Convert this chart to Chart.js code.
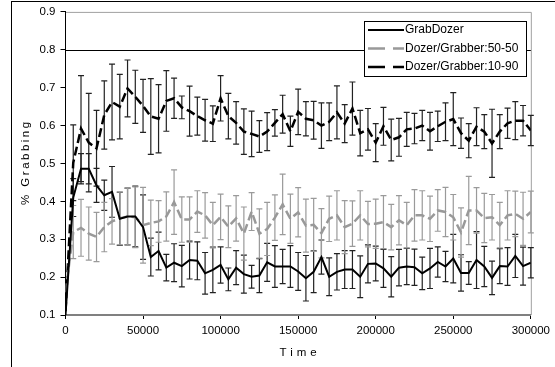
<!DOCTYPE html>
<html>
<head>
<meta charset="utf-8">
<script src="https://cdn.jsdelivr.net/npm/chart.js@4.4.1/dist/chart.umd.min.js"></script>
<style>
  body { margin: 0; background: #fff; }
  canvas { display: block; }
</style>
</head>
<body>
<canvas id="grabChart" width="555" height="367"></canvas>
<script>
// sample times (every 5000 steps)
const times = [0, 5000, 10000, 15000, 20000, 25000, 30000, 35000, 40000, 45000,
  50000, 55000, 60000, 65000, 70000, 75000, 80000, 85000, 90000, 95000,
  100000, 105000, 110000, 115000, 120000, 125000, 130000, 135000, 140000, 145000,
  150000, 155000, 160000, 165000, 170000, 175000, 180000, 185000, 190000, 195000,
  200000, 205000, 210000, 215000, 220000, 225000, 230000, 235000, 240000, 245000,
  250000, 255000, 260000, 265000, 270000, 275000, 280000, 285000, 290000, 295000,
  300000];

// GrabDozer
const grabDozer = [0.10, 0.41, 0.486, 0.486, 0.442, 0.416, 0.425, 0.354, 0.36, 0.36,
  0.332, 0.253, 0.269, 0.225, 0.238, 0.229, 0.245, 0.243, 0.21, 0.219,
  0.232, 0.194, 0.225, 0.208, 0.201, 0.204, 0.239, 0.228, 0.228, 0.228,
  0.215, 0.197, 0.214, 0.253, 0.201, 0.214, 0.22, 0.22, 0.201, 0.235,
  0.236, 0.223, 0.201, 0.225, 0.228, 0.226, 0.21, 0.223, 0.24, 0.228,
  0.249, 0.211, 0.211, 0.245, 0.228, 0.198, 0.229, 0.228, 0.256, 0.229,
  0.238];
const grabDozerErr = [0, 0.05, 0.04, 0.04, 0.045, 0.04, 0.067, 0.07, 0.075, 0.08,
  0.085, 0.05, 0.05, 0.035, 0.05, 0.055, 0.05, 0.05, 0.055, 0.06,
  0.048, 0.03, 0.045, 0.05, 0.03, 0.045, 0.05, 0.055, 0.045, 0.055,
  0.05, 0.06, 0.055, 0.045, 0.05, 0.048, 0.05, 0.05, 0.055, 0.05,
  0.046, 0.05, 0.053, 0.048, 0.048, 0.048, 0.043, 0.053, 0.04, 0.04,
  0.064, 0.048, 0.03, 0.075, 0.053, 0.044, 0.046, 0.05, 0.057, 0.05,
  0.04];

// Dozer/Grabber:50-50
const mix5050 = [0.16, 0.319, 0.33, 0.315, 0.306, 0.332, 0.347, 0.355, 0.36, 0.358,
  0.337, 0.343, 0.347, 0.36, 0.398, 0.352, 0.352, 0.373, 0.363, 0.337,
  0.359, 0.333, 0.355, 0.315, 0.373, 0.315, 0.327, 0.357, 0.392, 0.354,
  0.371, 0.336, 0.338, 0.316, 0.354, 0.363, 0.332, 0.341, 0.363, 0.34,
  0.341, 0.345, 0.332, 0.35, 0.337, 0.363, 0.363, 0.354, 0.376, 0.372,
  0.358, 0.318, 0.376, 0.376, 0.356, 0.358, 0.337, 0.363, 0.367, 0.354,
  0.372];
const mix5050Err = [0, 0.07, 0.075, 0.07, 0.065, 0.065, 0.06, 0.07, 0.075, 0.08,
  0.1, 0.06, 0.055, 0.065, 0.085, 0.06, 0.06, 0.055, 0.06, 0.06,
  0.06, 0.055, 0.06, 0.07, 0.05, 0.065, 0.07, 0.06, 0.08, 0.065,
  0.065, 0.07, 0.07, 0.065, 0.06, 0.065, 0.07, 0.06, 0.065, 0.06,
  0.065, 0.07, 0.06, 0.065, 0.06, 0.068, 0.065, 0.06, 0.055, 0.065,
  0.06, 0.065, 0.09, 0.06, 0.065, 0.06, 0.06, 0.065, 0.06, 0.07,
  0.055];

// Dozer/Grabber:10-90
const mix1090 = [0.11, 0.502, 0.592, 0.555, 0.54, 0.628, 0.662, 0.65, 0.698, 0.676,
  0.652, 0.624, 0.618, 0.665, 0.672, 0.648, 0.638, 0.625, 0.614, 0.605,
  0.672, 0.625, 0.607, 0.584, 0.578, 0.571, 0.584, 0.607, 0.63, 0.585,
  0.636, 0.618, 0.614, 0.6, 0.61, 0.635, 0.605, 0.645, 0.58, 0.59,
  0.555, 0.598, 0.562, 0.569, 0.59, 0.592, 0.6, 0.585, 0.598, 0.61,
  0.617, 0.58, 0.56, 0.597, 0.584, 0.553, 0.584, 0.606, 0.613, 0.613,
  0.587];
const mix1090Err = [0, 0.1, 0.14, 0.13, 0.1, 0.09, 0.1, 0.085, 0.075, 0.07,
  0.07, 0.1, 0.09, 0.08, 0.053, 0.03, 0.066, 0.05, 0.055, 0.047,
  0.06, 0.06, 0.056, 0.06, 0.06, 0.042, 0.05, 0.035, 0.05, 0.04,
  0.06, 0.045, 0.05, 0.06, 0.05, 0.07, 0.05, 0.07, 0.06, 0.055,
  0.05, 0.05, 0.055, 0.05, 0.045, 0.04, 0.04, 0.05, 0.04, 0.05,
  0.07, 0.04, 0.045, 0.05, 0.045, 0.09, 0.045, 0.04, 0.05, 0.04,
  0.04];

const xTicks = [0, 50000, 100000, 150000, 200000, 250000, 300000];
const yTicks = [0.1, 0.2, 0.3, 0.4, 0.5, 0.6, 0.7, 0.8, 0.9];
const refLine = 0.8;

const FONT = 'Arial, "Liberation Sans", sans-serif';

function points(values) {
  return values.map((v, i) => ({ x: times[i], y: v }));
}

// white page, outer frame, plot box and the 0.8 reference line
const frame = {
  id: 'frame',
  beforeDraw(chart) {
    const ctx = chart.ctx;
    const a = chart.chartArea;
    ctx.save();
    ctx.fillStyle = '#fff';
    ctx.fillRect(0, 0, chart.width, chart.height);
    ctx.strokeStyle = '#000';
    ctx.lineWidth = 1;
    ctx.strokeRect(11.5, 1.5, chart.width + 10, chart.height + 10);
    ctx.strokeStyle = '#a0a0a0';
    ctx.beginPath();
    ctx.moveTo(a.left, a.top + 0.5);
    ctx.lineTo(a.right + 0.5, a.top + 0.5);
    ctx.lineTo(a.right + 0.5, a.bottom);
    ctx.stroke();
    const y = Math.round(chart.scales.y.getPixelForValue(refLine)) + 0.5;
    ctx.strokeStyle = '#000';
    ctx.beginPath();
    ctx.moveTo(a.left, y);
    ctx.lineTo(a.right, y);
    ctx.stroke();
    ctx.restore();
  }
};

// vertical error bars with small caps, under the lines
const errorBars = {
  id: 'errorBars',
  beforeDatasetsDraw(chart) {
    const ctx = chart.ctx;
    const xs = chart.scales.x, ys = chart.scales.y;
    ctx.save();
    chart.data.datasets.forEach(ds => {
      ctx.strokeStyle = ds.errColor;
      ctx.lineWidth = 1.2;
      ds.data.forEach((p, i) => {
        const e = ds.err[i];
        if (!e) return;
        const x = xs.getPixelForValue(p.x);
        const y1 = ys.getPixelForValue(p.y + e);
        const y2 = ys.getPixelForValue(p.y - e);
        ctx.beginPath();
        ctx.moveTo(x, y1); ctx.lineTo(x, y2);
        ctx.moveTo(x - 3, y1); ctx.lineTo(x + 3, y1);
        ctx.moveTo(x - 3, y2); ctx.lineTo(x + 3, y2);
        ctx.stroke();
      });
    });
    ctx.restore();
  }
};

// legend box and spaced-out axis titles
const labels = {
  id: 'labels',
  afterDraw(chart) {
    const ctx = chart.ctx;
    const a = chart.chartArea;
    ctx.save();
    // legend
    const lx = 364.5, ly = 21.5, lw = 162, lh = 55;
    ctx.fillStyle = '#fff';
    ctx.fillRect(lx, ly, lw, lh);
    ctx.strokeStyle = '#000';
    ctx.lineWidth = 1;
    ctx.strokeRect(lx, ly, lw, lh);
    ctx.font = '12px ' + FONT;
    ctx.textBaseline = 'middle';
    ctx.textAlign = 'left';
    chart.data.datasets.forEach((ds, i) => {
      const y = 30 + i * 18.5;
      ctx.strokeStyle = ds.borderColor;
      ctx.lineWidth = ds.borderWidth;
      ctx.setLineDash(ds.borderDash && ds.borderDash.length ? [17, 8] : []);
      ctx.beginPath();
      ctx.moveTo(368, y);
      ctx.lineTo(404, y);
      ctx.stroke();
      ctx.setLineDash([]);
      ctx.fillStyle = '#000';
      ctx.fillText(ds.label, 405, y);
    });
    // axis titles
    ctx.font = '11.5px ' + FONT;
    ctx.fillStyle = '#000';
    ctx.letterSpacing = '4px';
    const xt = 'Time';
    const xw = ctx.measureText(xt).width - 4;
    ctx.fillText(xt, (a.left + a.right) / 2 - xw / 2, 353);
    ctx.translate(26, (a.top + a.bottom) / 2);
    ctx.rotate(-Math.PI / 2);
    const yt = '% Grabbing';
    ctx.letterSpacing = '2.5px';
    const yw = ctx.measureText(yt).width - 2.5;
    ctx.fillText(yt, -yw / 2, 0);
    ctx.restore();
  }
};

new Chart(document.getElementById('grabChart'), {
  type: 'line',
  data: {
    datasets: [
      {
        label: 'GrabDozer',
        data: points(grabDozer),
        err: grabDozerErr,
        errColor: '#222',
        borderColor: '#000',
        borderWidth: 2,
        borderDash: []
      },
      {
        label: 'Dozer/Grabber:50-50',
        data: points(mix5050),
        err: mix5050Err,
        errColor: '#9a9a9a',
        borderColor: '#999999',
        borderWidth: 2.5,
        borderDash: [9, 4]
      },
      {
        label: 'Dozer/Grabber:10-90',
        data: points(mix1090),
        err: mix1090Err,
        errColor: '#222',
        borderColor: '#000',
        borderWidth: 2.5,
        borderDash: [9, 4]
      }
    ]
  },
  options: {
    responsive: false,
    animation: false,
    layout: { padding: { left: 12, top: 11, right: 22, bottom: 0 } },
    elements: { point: { radius: 0 }, line: { tension: 0, fill: false } },
    plugins: { legend: { display: false }, tooltip: { enabled: false } },
    scales: {
      x: {
        type: 'linear',
        min: 0,
        max: 300000,
        afterBuildTicks: s => { s.ticks = xTicks.map(v => ({ value: v })); },
        afterFit: s => { s.height = 52; },
        grid: { drawOnChartArea: false, tickLength: 4, tickColor: '#000' },
        border: { color: '#808080', width: 2 },
        ticks: {
          color: '#000',
          font: { family: FONT, size: 11.5 },
          padding: 5,
          maxRotation: 0,
          callback: v => String(v)
        }
      },
      y: {
        min: 0.1,
        max: 0.9,
        afterBuildTicks: s => { s.ticks = yTicks.map(v => ({ value: v })); },
        afterFit: s => { s.width = 53.5; },
        grid: { drawOnChartArea: false, tickLength: 5, tickColor: '#000' },
        border: { color: '#000', width: 1 },
        ticks: {
          color: '#000',
          font: { family: FONT, size: 11.5 },
          padding: 5,
          callback: v => Number(v).toFixed(1)
        }
      }
    }
  },
  plugins: [frame, errorBars, labels]
});
</script>
</body>
</html>
